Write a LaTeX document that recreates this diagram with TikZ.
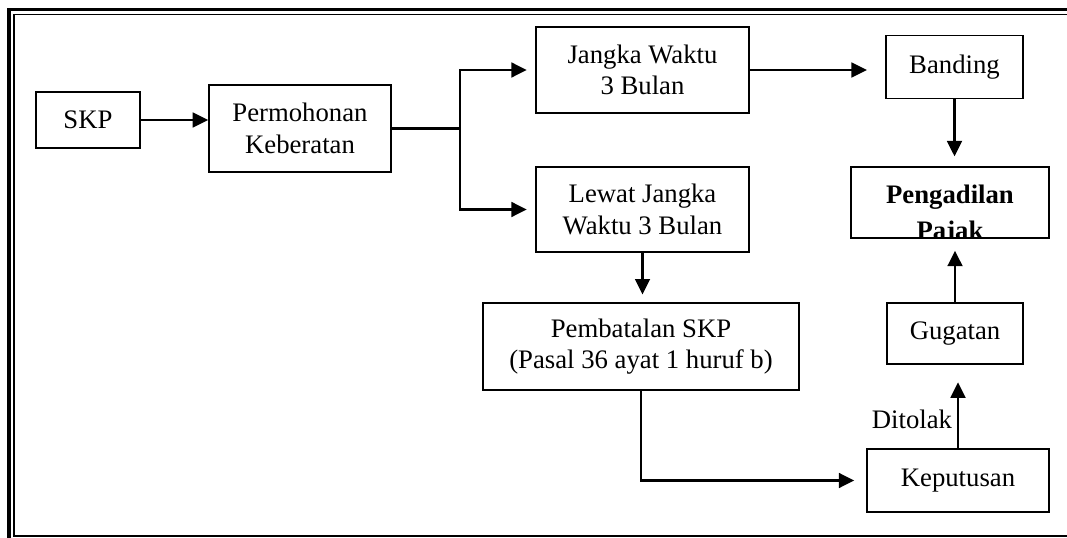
\documentclass[tikz,border=0pt]{standalone}
\usepackage{fontspec}
\setmainfont{Liberation Serif}
\usetikzlibrary{arrows.meta}

\begin{document}
\begin{tikzpicture}[x=0.025cm,y=-0.025cm,>={Triangle[length=11pt,width=10.5pt]},
    font=\fontsize{19}{22.5}\selectfont,
    flow box/.style={rectangle,draw,line width=1.1pt,inner sep=0pt,align=center},
    flow arrow/.style={->,line width=1.8pt},
    clip text/.style={draw=none,inner sep=0pt,minimum size=0pt,anchor=base,font=\fontsize{19}{22.5}\selectfont\bfseries}]

\useasboundingbox (0,0) rectangle (1067,538);
\draw[line width=2.2pt] (9,538) -- (9,9.5) -- (1067,9.5);
\draw[line width=1pt] (1067,14.5) -- (14,14.5) -- (14,536) -- (1067,536);

\node[flow box,minimum width=2.6cm,minimum height=1.4cm]     (skp)     at (88,120)    {SKP};
\node[flow box,minimum width=4.55cm,minimum height=2.175cm]  (mohon)   at (300,128.5) {Permohonan\\Keberatan};
\node[flow box,minimum width=5.325cm,minimum height=2.15cm]  (jangka)  at (642.5,70)  {Jangka Waktu\\3 Bulan};
\node[flow box,minimum width=5.325cm,minimum height=2.125cm] (lewat)   at (642.5,209.5) {Lewat Jangka\\Waktu 3 Bulan};
\node[flow box,minimum width=3.425cm,minimum height=1.575cm] (banding) at (954.5,67)  {Banding};
\node[flow box,minimum width=4.95cm,minimum height=1.775cm,
    path picture={
      \node[clip text] at ([yshift=-0.4pt]path picture bounding box.center) {Pengadilan};
      \node[clip text] at ([yshift=-26pt]path picture bounding box.center) {Pajak};
    }]                                                         (adil)    at (950,202.5) {};
\node[flow box,minimum width=7.9cm,minimum height=2.175cm]    (batal)   at (641,346.5) {Pembatalan SKP\\(Pasal 36 ayat 1 huruf b)};
\node[flow box,minimum width=3.4cm,minimum height=1.525cm]   (gugatan) at (955,333.5) {Gugatan};
\node[flow box,minimum width=4.55cm,minimum height=1.575cm]  (putusan) at (958,480.5) {Keputusan};

\draw[flow arrow] (skp.east) -- (skp.east -| mohon.west);
\draw[line width=1.8pt] (mohon.east) -- ++(68,0) coordinate (fork);
\draw[flow arrow,shorten >=6pt] (fork) |- (jangka.west);
\draw[flow arrow,shorten >=6pt] (fork) |- (lewat.west);
\draw[flow arrow,shorten >=13pt] (jangka.east) -- (jangka.east -| banding.west);
\draw[flow arrow,shorten >=7pt] (banding.south) -- (banding.south |- adil.north);
\draw[flow arrow,shorten >=5.5pt] (lewat.south) -- (lewat.south |- batal.north);
\draw[flow arrow,shorten >=8.5pt] (batal.south) |- (putusan.west);
\draw[flow arrow,shorten >=12.5pt] (putusan.north) -- node[pos=0.34,left]{Ditolak} (putusan.north |- gugatan.south);
\draw[flow arrow,shorten >=8.5pt] (gugatan.north) -- (gugatan.north |- adil.south);
\end{tikzpicture}
\end{document}
